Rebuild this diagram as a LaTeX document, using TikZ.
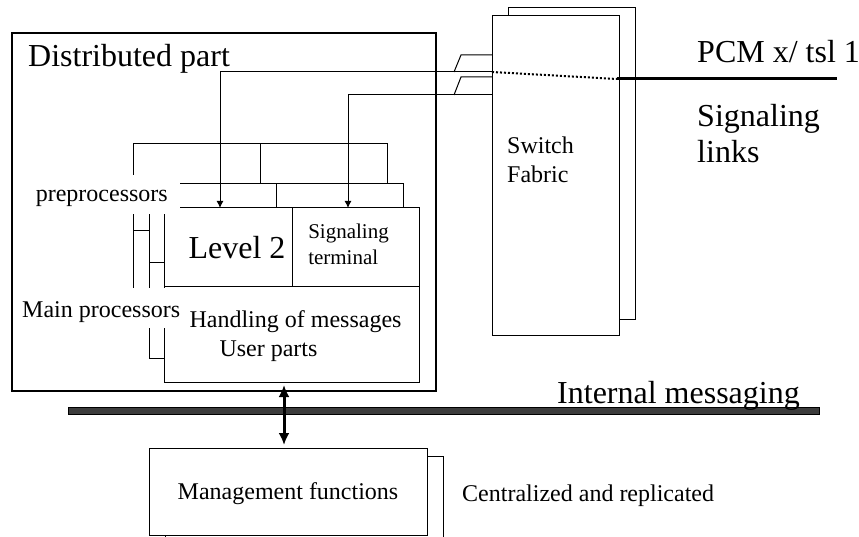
\documentclass[tikz,border=0pt]{standalone}
\usepackage{fontspec}
\setmainfont{Liberation Serif}
\usetikzlibrary{positioning,arrows.meta}
\definecolor{busgray}{RGB}{60,60,60}

\begin{document}
\begin{tikzpicture}[x=1pt,y=-1pt,
    bigtxt/.style={font=\fontsize{32}{36}\selectfont},
    midtxt/.style={font=\fontsize{24}{29}\selectfont},
    smalltxt/.style={font=\fontsize{21}{26}\selectfont},
    txt/.style={inner sep=0pt},
    box/.style={draw,line width=1pt,inner sep=0pt,outer sep=0pt,anchor=north west},
    wire/.style={line width=1pt},
    sig/.style={line width=1pt,-{Latex[length=7pt,width=7pt]}},
    cover/.style={fill=white,inner ysep=0pt}]
    \useasboundingbox (0,0) rectangle (859,537);

    % distributed part
    \node[box,line width=2.8pt,minimum width=424pt,minimum height=358pt] (dist) at (12,33) {};
    \node[bigtxt,txt,anchor=base west] (disttxt) at (28,67) {Distributed part};

    % boards behind
    \draw[wire] (133,300) -- (133,144) -- (387,144) -- (387,184);
    \draw[wire] (260,144) -- (260,184);
    \draw[wire] (170,184) -- (403,184) -- (403,208);
    \draw[wire] (276,184) -- (276,208);
    \draw[wire] (133,231) -- (149,231);
    \draw[wire] (149,200) -- (149,358) -- (164,358);
    \draw[wire] (149,263) -- (164,263);

    \node[box,minimum width=128pt,minimum height=79pt] (level2) at (164,208) {};
    \node[box,minimum width=127pt,minimum height=79pt] (sigterm) at (level2.north east) {};
    \node[box,minimum width=255pt,minimum height=95pt] (handling) at (level2.south west) {};
    \node[bigtxt,txt] (l2txt) at ([xshift=9pt]level2.center) {Level 2};
    \node[smalltxt,txt,align=left] (sttxt) at ([shift={(-7pt,3pt)}]sigterm.center) {Signaling\\terminal};
    \node[midtxt,txt,align=left] (hdtxt) at ([shift={(4pt,-2pt)}]handling.center) {Handling of messages\\\hspace*{30pt}User parts};

    \node[midtxt,cover,inner xsep=12pt,text height=27pt,text depth=12pt,anchor=base east] (prep) at (180,202) {preprocessors};
    \node[midtxt,cover,inner xsep=4pt,text height=29pt,text depth=11pt,anchor=base west] (mainp) at (18,317) {Main processors};

    % switch fabric
    \node[box,minimum width=127pt,minimum height=311pt] (fabricback) at (508,8) {};
    \node[box,fill=white,minimum width=127pt,minimum height=319pt] (fabric) at (492,16) {};
    \node[midtxt,txt,align=left,anchor=north west] (fabtxt) at (507,137) {Switch\\Fabric};

    \draw[wire] ([yshift=-39pt]fabric.north west) -- ++(-31,0) -- ++(-7,17);
    \draw[wire] ([yshift=-61pt]fabric.north west) -- ++(-31,0) -- ++(-7,18);
    \draw[sig] ([yshift=-56pt]fabric.north west) -| ([xshift=-8pt]level2.north);
    \draw[sig] ([yshift=-79pt]fabric.north west) -| ([xshift=-7.5pt]sigterm.north);

    \coordinate (tsl) at (617,79);
    \coordinate (pcmend) at (837,79);
    \draw[line width=2pt,dash pattern=on 2pt off 2pt] ([yshift=-56pt]fabric.north west) -- (tsl);
    \draw[line width=3pt] (tsl) -- (pcmend);
    \node[bigtxt,txt,anchor=base west] (pcm) at (697,63) {PCM x/ tsl 1};
    \node[bigtxt,txt,align=left,anchor=north west] (links) at (697,104) {Signaling\\links};

    % internal messaging
    \node[draw,line width=1pt,fill=busgray,minimum width=751pt,minimum height=7pt,inner sep=0pt,anchor=west] (bus) at (68,410.5) {};
    \node[bigtxt,txt,anchor=base west] (bustxt) at (557,403) {Internal messaging};

    % management
    \node[box,minimum width=278pt,minimum height=100pt] (mgmtback) at (165,456) {};
    \node[box,fill=white,minimum width=278pt,minimum height=87pt,midtxt,text depth=0pt] (mgmt) at (149,448) {Management functions};
    \node[midtxt,txt,anchor=base west] (centr) at (462,501) {Centralized and replicated};

    \draw[line width=3pt,{Latex[length=12pt,width=11pt]}-{Latex[length=12pt,width=11pt]}] ([shift={(-7.5pt,-3pt)}]handling.south) -- ([shift={(-4pt,3pt)}]mgmt.north);
\end{tikzpicture}
\end{document}
